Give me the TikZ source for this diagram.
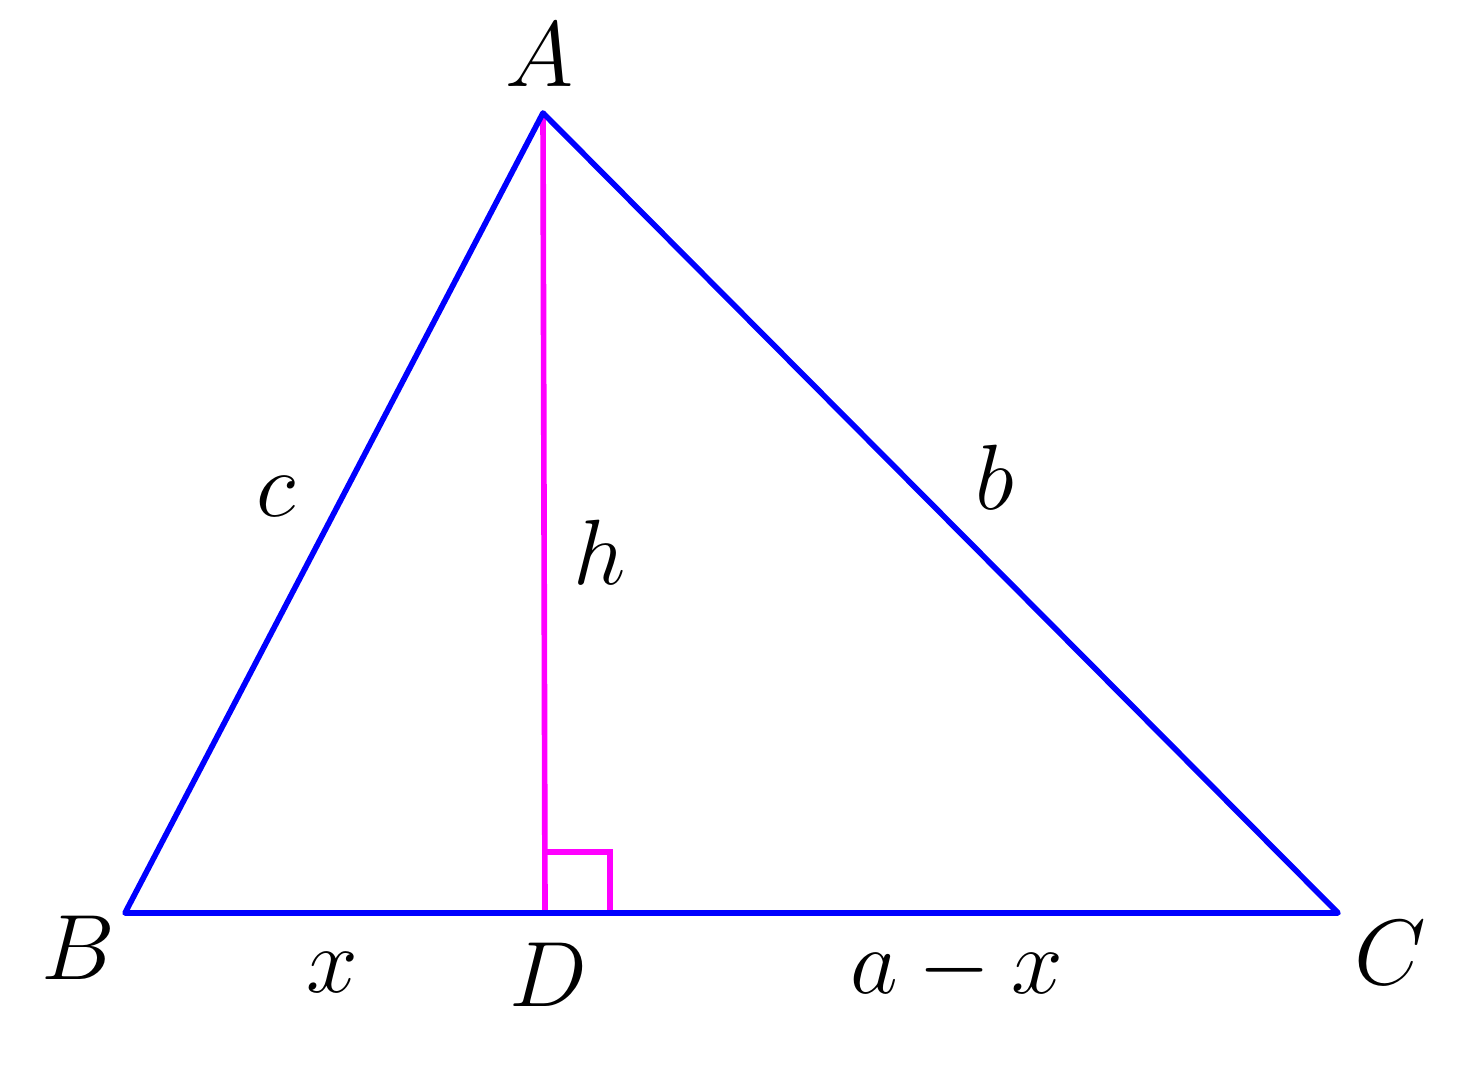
\documentclass[tikz,border=0pt]{standalone}
\begin{document}
\begin{tikzpicture}[x=0.01cm,y=-0.01cm,
  side/.style={draw={rgb,255:red,0;green,0;blue,255},line width=1.6pt,line cap=round,line join=round},
  alt/.style={draw={rgb,255:red,255;green,0;blue,255},line width=1.6pt},
  lab/.style={font=\fontsize{24.88}{30}\selectfont,inner sep=0pt,scale=1.06}]
\useasboundingbox (0,0) rectangle (1476,1065);
\coordinate (A) at (543,113);
\coordinate (B) at (125,913);
\coordinate (C) at (1338,913);
\coordinate (D) at (545,913);
\coordinate (Q) at (610,852);
\draw[alt] (A) -- (D);
\draw[alt] (D |- Q) -- (Q) -- (Q |- D);
\draw[side] (A) -- (B) -- (C) -- cycle;
\node[lab] (lA) at (540,55) {$A$};
\node[lab] (lB) at (78,948) {$B$};
\node[lab] (lC) at (1390,953) {$C$};
\node[lab] (lD) at (548,975) {$D$};
\node[lab] (lx) at (332,973) {$x$};
\node[lab] (lax) at (957,970) {$a-x$};
\node[lab] (lc) at (276,497) {$c$};
\node[lab] (lb) at (995,477) {$b$};
\node[lab] (lh) at (600,552) {$h$};
\end{tikzpicture}
\end{document}
